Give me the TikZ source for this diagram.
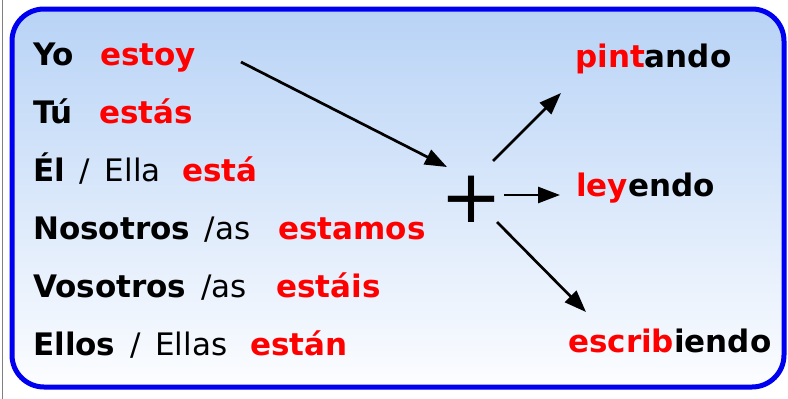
\documentclass[tikz,border=0pt]{standalone}
\usepackage{fontspec}
\setmainfont[WordSpace=1.5]{DejaVu Sans}
\usetikzlibrary{arrows.meta}
\definecolor{topblue}{RGB}{184,211,246}
\definecolor{botwhite}{RGB}{252,253,255}
\definecolor{frameblue}{RGB}{0,0,240}
\begin{document}
\begin{tikzpicture}[x=1pt,y=-1pt,
  txt/.style={anchor=base west,inner sep=0pt,font=\fontsize{31}{31}\selectfont},
  redw/.style={txt,text=red,font=\fontsize{31}{31}\selectfont\bfseries},
  arr/.style={line width=2.7pt,-{Triangle[length=22pt,width=16pt]}}]
\useasboundingbox (0,0) rectangle (788,399);
\fill[white] (0,0) rectangle (788,399);
\draw[gray,line width=1.5pt] (2.5,0) -- (2.5,399);
\draw[frameblue,line width=5pt,rounded corners=32pt,top color=topblue,bottom color=botwhite]
  (12,9) rectangle (784,387);
% left column
\node[txt] (p1) at (33,65) {\textbf{Yo}};
\node[redw] (v1) at (100,65) {estoy};
\node[txt] (p2) at (33,123) {\textbf{Tú}};
\node[redw] (v2) at (99,123) {estás};
\node[txt] (p3) at (33,181) {\textbf{Él} / Ella};
\node[redw] (v3) at (182,181) {está};
\node[txt] (p4) at (33,239) {\textbf{Nosotros} /as};
\node[redw] (v4) at (278,239) {estamos};
\node[txt] (p5) at (33,297) {\textbf{Vosotros} /as};
\node[redw] (v5) at (276,297) {estáis};
\node[txt] (p6) at (33,355) {\textbf{Ellos} / Ellas};
\node[redw] (v6) at (250,355) {están};
% right column
\node[txt,font=\fontsize{31}{31}\selectfont\bfseries] (g1) at (575,67) {\textcolor{red}{pint}ando};
\node[txt,font=\fontsize{31}{31}\selectfont\bfseries] (g2) at (576,196) {\textcolor{red}{ley}endo};
\node[txt,font=\fontsize{31}{31}\selectfont\bfseries] (g3) at (568,352) {\textcolor{red}{escrib}iendo};
% plus
\node[inner sep=0pt,font=\fontsize{74}{74}\selectfont] (plus) at (471,199) {+};
% connectors
\coordinate (s1) at (241,62);
\coordinate (e1) at (447,167);
\coordinate (s2) at (493,161);
\coordinate (e2) at (561,93);
\coordinate (s3) at (504,195);
\coordinate (e3) at (560,195);
\coordinate (s4) at (497,222);
\coordinate (e4) at (586,312);
\draw[arr] (s1) -- (e1);
\draw[arr] (s2) -- (e2);
\draw[arr] (s3) -- (e3);
\draw[arr] (s4) -- (e4);
\end{tikzpicture}
\end{document}
